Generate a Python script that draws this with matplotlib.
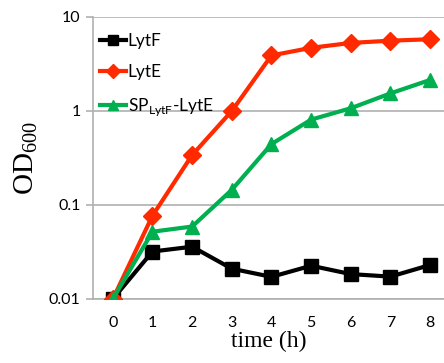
import numpy as np
import matplotlib
matplotlib.use('Agg')
import matplotlib.pyplot as plt

# time (h)
hours = [0, 1, 2, 3, 4, 5, 6, 7, 8]
od_lytf = [0.010, 0.032, 0.036, 0.021, 0.0172, 0.0226, 0.0184, 0.0173, 0.023]
od_lyte = [0.010, 0.077, 0.34, 1.0, 3.9, 4.7, 5.3, 5.6, 5.8]
od_sp_lyte = [0.010, 0.052, 0.059, 0.145, 0.445, 0.81, 1.07, 1.54, 2.14]

tick_font = 'Lato'
label_font = 'Liberation Serif'

fig = plt.figure(figsize=(4.44, 3.63), dpi=100)
ax = fig.add_axes([93 / 444, 64 / 363, 1 - 93 / 444, (299 - 17) / 363])

ax.semilogy(hours, od_lytf, '-s', color='black', lw=3, markersize=9.5, label='LytF', zorder=3)
ax.semilogy(hours, od_lyte, '-D', color='#FF2A00', lw=3, markersize=9, label='LytE', zorder=4)
ax.semilogy(hours, od_sp_lyte, '-^', color='#00B050', lw=3, markersize=10.5,
            label=r'SP$_{\mathregular{LytF}}$-LytE', zorder=5)

ax.set_xlim(-0.5, 8.35)
ax.set_ylim(0.01, 10)
ax.set_xticks(hours)
ax.set_yticks([0.01, 0.1, 1, 10])
ax.set_yticklabels(['0.01', '0.1', '1', '10'])
ax.yaxis.set_minor_locator(matplotlib.ticker.NullLocator())

ax.grid(True, axis='y', color='#b0b0b0', lw=1.2)
for s in ['top', 'right']:
    ax.spines[s].set_visible(False)
for s in ['left', 'bottom']:
    ax.spines[s].set_color('#b0b0b0')
    ax.spines[s].set_linewidth(1.2)
ax.tick_params(axis='y', length=5, color='#b0b0b0', width=1.2, pad=4)
ax.tick_params(axis='x', length=0, pad=12)
for lab in ax.get_xticklabels() + ax.get_yticklabels():
    lab.set_fontfamily(tick_font)
    lab.set_fontsize(11.5)

ax.set_xlabel('time (h)', fontfamily=label_font, fontsize=17, labelpad=1)
ax.set_ylabel(r'OD$_{\mathregular{600}}$', fontfamily=label_font, fontsize=21, labelpad=6)

leg = ax.legend(loc='upper left', bbox_to_anchor=(-0.025, 1.0), frameon=False,
                handlelength=1.5, handletextpad=0.1, labelspacing=0.9,
                prop={'family': tick_font, 'size': 12.5}, markerscale=0.75)

fig.savefig('out.png', dpi=100)
